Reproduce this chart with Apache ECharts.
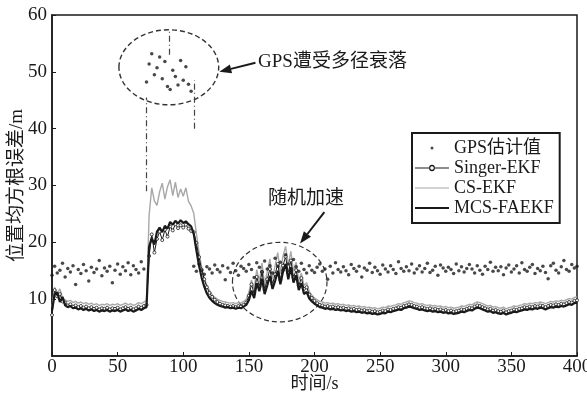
<!DOCTYPE html>
<html>
<head>
<meta charset="utf-8">
<script src="https://cdn.jsdelivr.net/npm/echarts@6/dist/echarts.min.js"></script>
<style>
  html, body { margin: 0; padding: 0; background: #fff; }
  #chart { width: 587px; height: 396px; }
</style>
</head>
<body>
<div id="chart"></div>
<script>
// samples every 2 s, t = 0 .. 400
const STEP = 2;
const FONT = "'Liberation Serif', 'Noto Sans CJK SC', serif";
const INK = "#1a1a1a";
const CS_GRAY = "#a8a8a8";

const seriesNames = ["GPS估计值", "Singer-EKF", "CS-EKF", "MCS-FAEKF"];

const gpsValues = [
  14.2, 15.8, 14.6, 15.1, 16.3, 13.9, 15.4, 14.8, 15.9, 12.6,
  15.2, 14.5, 16.1, 15.0, 13.2, 15.6, 14.7, 15.3, 16.8, 14.1,
  15.5, 14.9, 15.8, 12.9, 15.1, 16.2, 14.4, 15.7, 15.0, 16.4,
  14.3, 15.9, 15.2, 14.6, 16.6, 15.3, 48.2, 51.4, 53.2, 49.5,
  50.7, 52.6, 48.8, 51.8, 47.4, 46.9, 50.3, 49.2, 47.7, 52.0,
  48.5, 50.9, 47.8, 46.6, 15.8, 14.9, 16.2, 15.1, 14.4, 15.7,
  15.3, 14.6, 16.0, 15.2, 14.8, 15.9, 13.4, 15.5, 14.7, 16.3,
  15.0, 14.2, 15.8, 15.4, 14.9, 16.1, 15.2, 13.8, 16.4, 15.6,
  14.8, 16.7, 15.3, 15.9, 14.6, 17.2, 15.8, 16.5, 15.1, 17.8,
  16.2, 15.4, 17.0, 15.7, 14.9, 16.3, 15.2, 14.6, 15.9, 15.1,
  14.7, 15.6, 16.2, 14.9, 15.3, 13.5, 15.8, 14.6, 16.4, 15.2,
  14.8, 15.7, 15.0, 14.3, 16.1, 15.4, 14.9, 15.8, 13.9, 15.5,
  15.1, 16.3, 14.7, 15.6, 15.0, 14.4, 16.0, 15.3, 14.8, 15.9,
  15.2, 14.5, 16.6, 15.4, 14.9, 15.7, 15.0, 16.2, 14.6, 15.3,
  15.9, 14.8, 15.4, 16.3, 14.7, 15.1, 15.8, 14.2, 16.0, 15.5,
  14.9, 15.6, 15.2, 14.5, 16.2, 15.0, 15.7, 14.8, 15.4, 16.1,
  15.3, 14.6, 15.9, 15.1, 14.4, 15.8, 15.2, 16.5, 14.9, 15.6,
  15.0, 15.7, 14.3, 15.5, 16.0, 14.8, 15.3, 15.9, 14.6, 16.4,
  15.2, 14.9, 15.6, 16.1, 14.5, 15.4, 15.0, 15.8, 14.7, 13.6,
  15.9, 16.3, 15.1, 14.6, 15.7, 16.8, 15.2, 14.9, 16.1, 15.5,
  15.8
];

const singerValues = [
  7.2, 11.6, 10.5, 10.9, 9.6, 9.4, 8.9, 9.1, 8.7, 8.9,
  8.6, 8.8, 8.5, 8.7, 8.4, 8.6, 8.3, 8.5, 8.2, 8.4,
  8.3, 8.5, 8.2, 8.4, 8.3, 8.5, 8.2, 8.4, 8.6, 8.3,
  8.5, 8.2, 8.4, 8.7, 8.5, 8.8, 9.0, 17.6, 21.4, 18.2,
  20.6, 21.9, 20.4, 22.2, 21.0, 22.8, 22.1, 23.2, 22.5, 23.0,
  22.6, 23.1, 22.4, 22.0, 21.8, 19.9, 17.4, 15.2, 13.5, 12.1,
  11.1, 10.4, 9.9, 9.5, 9.2, 9.0, 8.9, 8.8, 8.7, 8.8,
  8.6, 8.8, 8.7, 9.0, 9.4, 10.6, 12.6, 11.0, 13.9, 12.2,
  14.8, 11.7, 13.5, 15.3, 12.6, 14.4, 16.2, 13.4, 15.9, 17.5,
  14.6, 16.8, 13.8, 15.1, 12.4, 13.7, 11.8, 12.1, 10.8, 10.2,
  9.7, 9.3, 9.0, 8.9, 8.7, 8.8, 8.6, 8.7, 8.5, 8.6,
  8.4, 8.5, 8.3, 8.4, 8.2, 8.3, 8.1, 8.2, 8.0, 8.1,
  7.9, 8.0, 7.8, 7.9, 7.7, 7.8, 8.0, 7.9, 8.2, 8.1,
  8.3, 8.4, 8.6, 8.5, 8.8, 8.9, 9.1, 9.0, 8.8, 8.7,
  8.5, 8.6, 8.4, 8.3, 8.4, 8.2, 8.3, 8.1, 8.2, 8.0,
  8.1, 7.9, 8.0, 7.8, 7.9, 8.0, 8.2, 8.1, 8.3, 8.5,
  8.4, 8.7, 8.9, 8.8, 8.6, 8.4, 8.2, 8.3, 8.0, 8.1,
  7.9, 7.8, 8.0, 7.7, 7.9, 8.0, 8.2, 8.1, 8.3, 8.4,
  8.6, 8.5, 8.7, 8.6, 8.8, 8.7, 8.9, 8.8, 8.6, 8.8,
  9.0, 8.9, 9.1, 9.0, 9.2, 9.1, 9.3, 9.5, 9.4, 9.7,
  9.8
];

const csValues = [
  8.6, 12.1, 11.0, 11.8, 10.2, 9.9, 9.6, 9.8, 9.4, 9.6,
  9.3, 9.5, 9.2, 9.4, 9.1, 9.3, 9.0, 9.2, 8.9, 9.1,
  9.0, 9.2, 8.9, 9.1, 9.0, 9.2, 8.9, 9.1, 9.3, 9.0,
  9.2, 8.9, 9.1, 9.4, 9.2, 9.5, 9.7, 24.8, 29.6, 27.3,
  26.5, 28.9, 30.4, 27.6, 29.8, 31.0, 28.2, 30.6, 27.9, 29.4,
  28.1, 29.6, 27.2, 26.4, 25.1, 21.6, 18.3, 15.6, 13.7, 12.4,
  11.5, 10.8, 10.3, 10.0, 9.8, 9.6, 9.5, 9.4, 9.3, 9.4,
  9.2, 9.4, 9.3, 9.6, 10.0, 11.2, 13.4, 11.8, 15.2, 13.0,
  16.4, 12.5, 14.8, 17.1, 13.6, 15.9, 18.2, 14.5, 17.6, 19.3,
  16.0, 18.4, 14.9, 16.5, 13.2, 14.6, 12.4, 12.9, 11.3, 10.7,
  10.2, 9.9, 9.6, 9.5, 9.3, 9.4, 9.2, 9.3, 9.1, 9.2,
  9.0, 9.1, 8.9, 9.0, 8.8, 8.9, 8.7, 8.8, 8.6, 8.7,
  8.5, 8.6, 8.4, 8.5, 8.3, 8.4, 8.6, 8.5, 8.8, 8.7,
  8.9, 9.0, 9.2, 9.1, 9.4, 9.5, 9.7, 9.6, 9.4, 9.3,
  9.1, 9.2, 9.0, 8.9, 9.0, 8.8, 8.9, 8.7, 8.8, 8.6,
  8.7, 8.5, 8.6, 8.4, 8.5, 8.6, 8.8, 8.7, 8.9, 9.1,
  9.0, 9.3, 9.5, 9.4, 9.2, 9.0, 8.8, 8.9, 8.6, 8.7,
  8.5, 8.4, 8.6, 8.3, 8.5, 8.6, 8.8, 8.7, 8.9, 9.0,
  9.2, 9.1, 9.3, 9.2, 9.4, 9.3, 9.5, 9.4, 9.2, 9.4,
  9.6, 9.5, 9.7, 9.6, 9.8, 9.7, 9.9, 10.1, 10.0, 10.3,
  10.4
];

const mcsValues = [
  8.0, 10.8, 11.2, 9.5, 10.4, 8.9, 8.6, 8.8, 8.4, 8.5,
  8.2, 8.4, 8.1, 8.3, 8.0, 8.2, 7.9, 8.1, 7.8, 8.0,
  7.9, 8.1, 7.8, 8.0, 7.9, 8.1, 7.8, 8.0, 8.2, 7.9,
  8.1, 7.8, 8.0, 8.3, 8.1, 8.4, 8.6, 19.2, 20.8, 19.6,
  21.9, 22.6, 21.8, 22.9, 22.4, 23.6, 23.1, 23.8, 23.3, 23.9,
  23.4, 23.7, 23.2, 22.8, 21.5, 18.6, 15.9, 13.8, 12.2, 11.0,
  10.2, 9.7, 9.3, 9.0, 8.8, 8.7, 8.5, 8.6, 8.4, 8.5,
  8.3, 8.5, 8.4, 8.7, 9.0, 9.8, 11.5, 10.2, 12.8, 11.4,
  13.6, 10.9, 12.4, 14.1, 11.8, 13.2, 15.0, 12.6, 14.8, 16.2,
  13.5, 15.6, 12.9, 14.2, 11.6, 12.8, 10.9, 11.3, 10.1, 9.6,
  9.2, 8.9, 8.6, 8.5, 8.3, 8.4, 8.2, 8.3, 8.1, 8.2,
  8.0, 8.1, 7.9, 8.0, 7.8, 7.9, 7.7, 7.8, 7.6, 7.7,
  7.5, 7.6, 7.4, 7.5, 7.3, 7.4, 7.6, 7.5, 7.8, 7.7,
  7.9, 8.0, 8.2, 8.1, 8.4, 8.5, 8.7, 8.6, 8.4, 8.3,
  8.1, 8.2, 8.0, 7.9, 8.0, 7.8, 7.9, 7.7, 7.8, 7.6,
  7.7, 7.5, 7.6, 7.4, 7.5, 7.6, 7.8, 7.7, 7.9, 8.1,
  8.0, 8.3, 8.5, 8.4, 8.2, 8.0, 7.8, 7.9, 7.6, 7.7,
  7.5, 7.4, 7.6, 7.3, 7.5, 7.6, 7.8, 7.7, 7.9, 8.0,
  8.2, 8.1, 8.3, 8.2, 8.4, 8.3, 8.5, 8.4, 8.2, 8.4,
  8.6, 8.5, 8.7, 8.6, 8.8, 8.7, 8.9, 9.1, 9.0, 9.3,
  9.4
];

// annotation anchors, in data coordinates [t, value]
const fadeEllipse = { center: [89, 50.8], radius: [38, 6.6] };
const accelEllipse = { center: [173.5, 13.0], radius: [36, 7.0] };
const fadeLabel = { text: "GPS遭受多径衰落", at: [157, 51.7], arrowFrom: [155, 51.6], arrowTo: [127.5, 50.0] };
const accelLabel = { text: "随机加速", at: [193.5, 27.6], arrowFrom: [207.5, 25.3], arrowTo: [189, 19.8] };
const gpsDrops = [
  [[72, 29], [72, 45.5]],
  [[108, 40], [108, 48.5]],
  [[89, 53], [89, 57.3]]
];

const toPairs = (values) => values.map((v, i) => [i * STEP, v]);

// legend icons; the leading moveTo points fix the icon box to 34x10
const DOT_ICON = "path://M0,0 M34,10 M15.5,5 a1.5,1.5 0 1,0 3,0 a1.5,1.5 0 1,0 -3,0 z";
const THIN_LINE_ICON = "path://M0,0 M34,10 M0,4.4 h34 v1.2 h-34 z";
const THICK_LINE_ICON = "path://M0,0 M34,10 M0,3.9 h34 v2.2 h-34 z";
const RING_LINE_ICON = "path://M0,0 M34,10 M0,4.5 h14.2 a2.8,2.8 0 0,1 5.6,0 h14.2 v1 h-14.2 a2.8,2.8 0 0,1 -5.6,0 h-14.2 z M15.2,5 a1.8,1.8 0 1,0 3.6,0 a1.8,1.8 0 1,0 -3.6,0 z";

const chart = echarts.init(document.getElementById("chart"), null, { renderer: "canvas" });

chart.setOption({
  backgroundColor: "#fff",
  animation: false,
  textStyle: { fontFamily: FONT, color: INK },
  grid: {
    left: 52, right: 10, top: 15, bottom: 40,
    outerBoundsMode: "none",
    containLabel: false,
    show: true, borderColor: INK, borderWidth: 1.5, backgroundColor: "transparent",
  },
  legend: {
    orient: "vertical",
    left: 412,
    top: 133,
    padding: [5, 6, 5, 3],
    itemGap: 0,
    itemWidth: 34,
    itemHeight: 10,
    borderColor: INK,
    borderWidth: 2,
    backgroundColor: "#fff",
    textStyle: { fontFamily: FONT, fontSize: 18, color: INK, lineHeight: 20 },
    data: [
      { name: seriesNames[0], icon: DOT_ICON, itemStyle: { color: INK } },
      { name: seriesNames[1], icon: RING_LINE_ICON, itemStyle: { color: INK, borderWidth: 0 } },
      { name: seriesNames[2], icon: THIN_LINE_ICON, itemStyle: { color: CS_GRAY } },
      { name: seriesNames[3], icon: THICK_LINE_ICON, itemStyle: { color: INK } },
    ],
  },
  xAxis: {
    type: "value",
    min: 0, max: 400, interval: 50,
    name: "时间/s",
    nameLocation: "middle",
    nameGap: 19,
    nameMoveOverlap: false,
    nameTextStyle: { fontFamily: FONT, fontSize: 18, color: INK },
    axisLine: { lineStyle: { color: INK, width: 1.5 } },
    axisTick: { inside: true, length: 4, lineStyle: { color: INK } },
    axisLabel: { fontFamily: FONT, fontSize: 19, color: INK, margin: 2 },
    splitLine: { show: false },
  },
  yAxis: {
    type: "value",
    min: 0, max: 60, interval: 10,
    name: "位置均方根误差/m",
    nameLocation: "middle",
    nameGap: 25,
    nameMoveOverlap: false,
    nameTextStyle: { fontFamily: FONT, fontSize: 19, color: INK, lineHeight: 20 },
    axisLine: { lineStyle: { color: INK, width: 1.5 } },
    axisTick: { inside: true, length: 4, lineStyle: { color: INK } },
    axisLabel: { fontFamily: FONT, fontSize: 19, color: INK, margin: 5, showMinLabel: false },
    splitLine: { show: false },
  },
  series: [
    {
      name: seriesNames[2],
      type: "line",
      symbol: "none",
      lineStyle: { color: CS_GRAY, width: 1.4 },
      itemStyle: { color: CS_GRAY },
      data: toPairs(csValues),
      z: 2,
    },
    {
      name: seriesNames[1],
      type: "line",
      symbol: "circle",
      symbolSize: 3,
      showSymbol: true,
      lineStyle: { color: INK, width: 1 },
      itemStyle: { color: "#fff", borderColor: INK, borderWidth: 0.8 },
      data: toPairs(singerValues),
      z: 3,
    },
    {
      name: seriesNames[3],
      type: "line",
      symbol: "none",
      lineStyle: { color: INK, width: 2.2 },
      itemStyle: { color: INK },
      data: toPairs(mcsValues),
      z: 4,
    },
    {
      name: seriesNames[0],
      type: "scatter",
      symbol: "circle",
      symbolSize: 3.5,
      itemStyle: { color: INK },
      data: toPairs(gpsValues),
      z: 5,
      markLine: {
        silent: true,
        symbol: "none",
        label: { show: false },
        lineStyle: { color: "#444", width: 1.2, type: [6, 3, 1, 3] },
        data: gpsDrops.map(([a, b]) => [{ coord: a }, { coord: b }]),
      },
    },
  ],
});

// dashed ellipses, arrows and callout text, positioned from data coordinates
function px(p) { return chart.convertToPixel({ gridIndex: 0 }, p); }

function ellipseShape(e) {
  const c = px(e.center);
  const edge = px([e.center[0] + e.radius[0], e.center[1] + e.radius[1]]);
  return { cx: c[0], cy: c[1], rx: Math.abs(edge[0] - c[0]), ry: Math.abs(edge[1] - c[1]) };
}

function arrow(from, to) {
  const a = px(from), b = px(to);
  const ang = Math.atan2(b[1] - a[1], b[0] - a[0]);
  const len = 12, half = 4.5;
  const base = [b[0] - len * Math.cos(ang), b[1] - len * Math.sin(ang)];
  const nx = -Math.sin(ang) * half, ny = Math.cos(ang) * half;
  return [
    { type: "line", shape: { x1: a[0], y1: a[1], x2: base[0], y2: base[1] },
      style: { stroke: INK, lineWidth: 2 } },
    { type: "polygon", shape: { points: [b, [base[0] + nx, base[1] + ny], [base[0] - nx, base[1] - ny]] },
      style: { fill: INK } },
  ];
}

function label(l, align) {
  const p = px(l.at);
  return { type: "text", x: p[0], y: p[1],
    style: { text: l.text, font: "19px " + FONT, fill: INK, align: align, verticalAlign: "middle" } };
}

chart.setOption({
  graphic: [
    { type: "ellipse", shape: ellipseShape(fadeEllipse),
      style: { fill: "none", stroke: "#333", lineWidth: 1.4, lineDash: [5, 3] } },
    { type: "ellipse", shape: ellipseShape(accelEllipse),
      style: { fill: "none", stroke: "#333", lineWidth: 1.2, lineDash: [5, 3] } },
    ...arrow(fadeLabel.arrowFrom, fadeLabel.arrowTo),
    ...arrow(accelLabel.arrowFrom, accelLabel.arrowTo),
    label(fadeLabel, "left"),
    label(accelLabel, "center"),
  ],
});
</script>
</body>
</html>
